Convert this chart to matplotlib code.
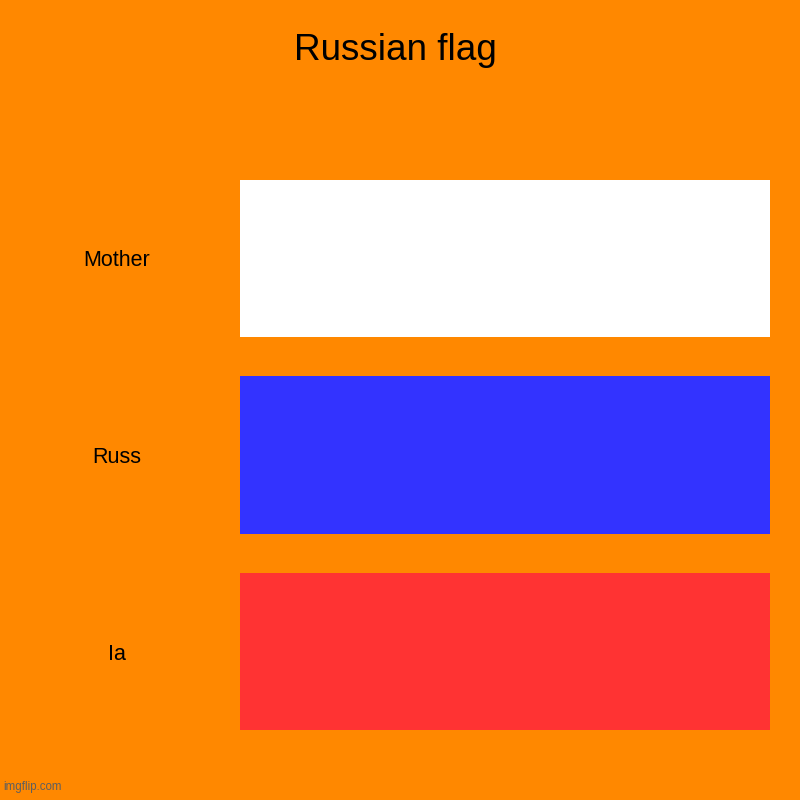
import matplotlib.pyplot as plt

categories = ["Mother", "Russ", "Ia"]
values = [1, 1, 1]
colors = ["#ffffff", "#3333ff", "#ff3333"]

bg = "#ff8800"

plt.rcParams['font.family'] = ['Liberation Sans', 'DejaVu Sans']

fig = plt.figure(figsize=(8, 8), dpi=100, facecolor=bg)
ax = fig.add_axes([0.3, 0.0628, 0.6625, 0.7369])
ax.set_facecolor(bg)

ax.barh(range(len(categories)), values, height=0.8, color=colors)
ax.set_xlim(0, 1)
ax.set_ylim(len(categories) - 0.5, -0.5)

ax.set_yticks(range(len(categories)))
ax.set_yticklabels(categories, fontsize=15.5, ha='center', va='center_baseline')
ax.tick_params(axis='y', length=0, pad=88.6)
ax.set_xticks([])
for s in ax.spines.values():
    s.set_visible(False)

fig.text(0.494, 0.937, "Russian flag", fontsize=26.6, ha='center', va='center')
fig.text(0.004, 0.009, "imgflip.com", fontsize=8.3, color="#5f5f5f", ha='left', va='bottom')

fig.savefig("out.png", facecolor=bg)
